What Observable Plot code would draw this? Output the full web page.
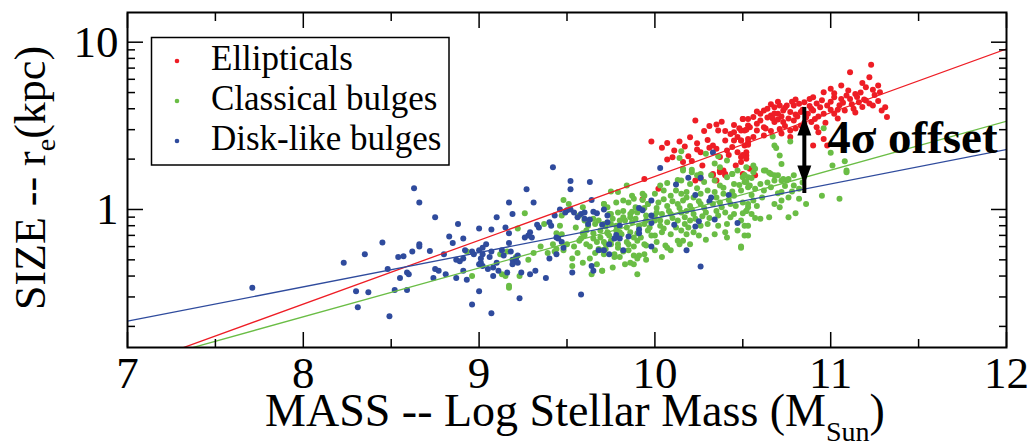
<!DOCTYPE html>
<html><head><meta charset="utf-8">
<script src="https://cdn.jsdelivr.net/npm/d3@7"></script>
<script src="https://cdn.jsdelivr.net/npm/@observablehq/plot@0.6"></script>
<style>body{margin:0;background:#fff} svg{display:block}</style>
</head><body><div id="chart"></div>
<script>
// ---------- data: [log stellar mass, r_e (kpc)] ----------
const ellipticals = [
[11.23,7.33],[11.11,6.62],[11.22,6.18],[11.06,5.51],[11.10,5.14],[11.14,4.91],[11.20,5.38],[11.25,4.84],[11.28,5.02],[11.00,5.26],
[10.96,5.02],[10.90,4.69],[10.88,4.58],[10.85,4.38],[10.82,4.28],[10.79,4.19],[10.75,4.19],[10.71,4.19],[10.68,4.09],[11.02,4.69],
[11.06,4.58],[11.11,4.58],[11.16,4.38],[11.20,4.48],[11.24,4.19],[11.31,4.09],[11.32,3.57],[10.94,4.09],[10.98,4.19],[10.89,4.00],
[10.83,3.82],[10.77,3.82],[10.73,3.91],[10.70,3.73],[10.66,3.65],[10.60,3.73],[10.56,3.57],[10.53,3.48],[10.50,3.48],[10.68,3.33],
[10.73,3.33],[10.79,3.40],[10.87,3.73],[10.91,3.48],[10.96,3.73],[11.02,3.73],[11.08,3.91],[11.13,4.00],[10.62,3.10],[10.58,2.97],
[10.54,3.10],[10.51,2.97],[10.71,3.03],[10.77,2.97],[10.83,3.18],[10.92,3.10],[10.96,2.64],[10.98,2.41],[10.62,2.77],[10.56,2.71],
[10.49,2.58],[10.53,2.52],[10.52,2.10],[10.49,1.92],[10.54,1.75],[10.57,1.60],[10.89,3.33],[10.93,2.90],[10.77,2.71],[10.90,2.41],
[10.23,3.40],[10.31,3.15],[10.35,3.22],[10.36,2.97],[10.50,3.48],[10.53,3.18],[9.98,2.55],[10.07,2.50],[10.04,2.34],[10.11,2.25],
[10.24,2.49],[10.24,2.28],[10.26,2.20],[10.31,2.34],[10.33,2.41],[10.35,2.31],[10.40,2.58],[10.43,2.83],[10.45,2.58],[10.47,2.71],
[10.49,2.97],[10.51,2.41],[10.53,2.64],[10.17,2.38],[10.19,2.08],[10.07,1.99],[10.16,1.92],[10.21,1.95],[10.27,1.83],[9.94,1.52],
[10.33,1.63],[10.37,1.71],[10.40,1.60],[10.46,1.83],[10.49,2.06],[10.52,2.01],[10.41,2.25],[10.37,2.06],[11.27,5.51],[11.18,5.70],
[10.48,3.06],[10.45,2.90],[10.52,3.00],[10.53,2.44],[10.52,2.20],[10.50,2.12],[10.47,2.20],[10.44,2.36],[10.42,2.12],[10.49,2.58],
[10.02,1.33],[9.93,1.15],[10.23,1.49],[10.26,1.53],[10.33,1.60],[10.35,1.49],[10.37,1.67],[10.40,1.63],[10.39,1.71],[10.50,1.63],
[10.60,3.40],[10.64,3.55],[10.68,3.75],[10.72,3.60],[10.76,3.50],[10.80,3.70],[10.84,3.95],[10.86,3.55],[10.70,4.40],[10.80,4.55],
[10.92,4.30],[11.00,4.40],[11.05,4.20],[11.15,4.70],[11.18,4.10],[10.64,4.00],[10.58,3.85],[10.66,2.95],[10.74,3.15],[11.04,3.95],
[10.62,3.90],[10.66,4.25],[10.70,3.45],[10.74,4.05],[10.78,4.40],[10.81,3.60],[10.85,3.30],[10.88,4.15],[10.90,3.90],[10.93,3.60],
[10.95,4.50],[10.97,3.30],[11.00,3.95],[11.02,4.95],[11.04,3.50],[11.07,4.35],[11.09,4.80],[11.12,4.25],[11.14,3.80],[11.17,5.00],
[11.19,4.55],[11.22,4.30],[11.24,5.20],[11.27,4.45],[11.29,3.90],[10.58,3.25],[10.63,3.05],[10.67,3.50],[10.72,2.85],[10.80,3.05],
[10.45,3.20],[10.40,2.95],[10.38,3.35],[10.30,2.60],[10.28,2.95],[10.20,2.70],[10.14,2.55],[10.10,2.05]
];
const classicalBulges = [
[9.26,0.95],[9.22,0.77],[9.48,1.14],[9.51,1.08],[9.44,0.72],[9.47,0.71],[9.42,0.62],[9.44,0.58],[9.43,0.56],[9.53,0.51],
[9.53,0.46],[9.54,0.60],[9.59,1.03],[9.60,0.86],[9.62,0.86],[9.62,0.80],[9.65,0.88],[9.66,0.82],[9.68,0.86],[9.71,1.08],
[9.73,1.03],[9.70,0.43],[9.63,0.51],[9.67,0.47],[9.58,0.67],[9.61,0.62],[9.65,0.67],[9.67,0.64],[9.69,0.68],[9.70,0.57],
[9.71,0.54],[9.72,0.62],[9.65,0.72],[9.17,0.35],[9.17,0.34],[9.13,0.41],[9.15,0.40],[9.23,0.40],[8.96,0.40],[8.93,0.56],
[9.75,1.28],[9.16,0.56],[9.12,0.54],
[10.16,1.71],[10.21,1.67],[10.26,1.63],[10.32,1.60],[10.44,1.63],[10.47,1.71],[10.53,1.56],[10.41,1.56],
[10.07,1.44],[10.15,1.49],[10.20,1.42],[10.28,1.46],[10.34,1.49],[10.37,1.39],[10.45,1.42],[10.51,1.46],[10.53,1.36],[10.03,1.39],
[9.94,1.21],[10.00,1.24],[10.05,1.30],[10.09,1.21],[10.15,1.24],[10.18,1.27],[10.22,1.18],[10.26,1.24],[10.34,1.27],[10.39,1.24],
[10.45,1.21],[10.49,1.30],[9.87,1.21],[9.79,1.27],
[9.71,1.08],[9.78,1.10],[9.85,1.10],[9.88,1.16],[9.96,1.08],[10.02,1.10],[10.07,1.05],[10.13,1.08],[10.16,1.13],[10.20,1.05],
[10.26,1.08],[10.37,1.10],[10.43,1.08],[10.50,1.10],[10.53,1.03],[9.93,1.14],
[9.74,0.94],[9.79,0.96],[9.82,0.98],[9.86,0.94],[9.90,0.96],[9.95,0.92],[10.01,0.96],[10.04,0.94],[10.09,0.94],[10.15,0.96],
[10.18,0.98],[10.22,0.94],[10.29,0.96],[10.35,0.98],[10.40,0.96],[10.45,0.94],[10.52,0.98],
[9.75,0.82],[9.83,0.86],[9.87,0.84],[9.94,0.82],[10.00,0.86],[10.03,0.80],[10.07,0.84],[10.13,0.86],[10.17,0.82],[10.20,0.86],
[10.26,0.80],[10.30,0.82],[10.36,0.80],[10.41,0.82],[10.49,0.86],[10.53,0.80],
[9.73,0.73],[9.78,0.75],[9.81,0.71],[9.86,0.73],[9.88,0.68],[9.96,0.75],[10.00,0.70],[10.04,0.73],[10.09,0.71],[10.15,0.75],
[10.18,0.71],[10.22,0.73],[10.29,0.66],[10.34,0.71],[10.40,0.73],[10.51,0.70],
[9.71,0.64],[9.75,0.65],[9.79,0.62],[9.84,0.64],[9.90,0.65],[9.94,0.62],[10.01,0.64],[10.06,0.61],[10.13,0.65],[10.16,0.65],
[10.20,0.62],[9.72,0.58],[9.79,0.59],[9.88,0.60],[9.95,0.61],
[9.71,0.57],[9.77,0.54],[9.80,0.52],[9.88,0.53],[9.90,0.51],[9.85,0.57],[9.94,0.54],[10.00,0.57],[10.07,0.59],[10.49,0.60],
[9.70,0.43],[9.90,0.41],[9.86,0.48],
[10.56,1.67],[10.63,1.71],[10.66,1.63],[10.70,1.60],[10.76,1.52],[10.79,1.39],[10.82,1.33],[10.72,1.49],[10.68,1.49],[10.60,1.42],
[10.54,1.39],[10.52,1.46],[10.50,1.56],[10.57,1.33],[10.62,1.30],[10.66,1.36],[10.72,1.27],[10.76,1.18],[10.82,1.16],[10.86,1.08],
[10.95,1.21],[11.05,1.16],[11.09,1.67],[10.72,1.13],[10.68,1.08],[10.71,1.03],[10.65,0.90],[10.60,0.88],[10.57,0.89],[10.55,0.94],
[10.52,0.98],[10.53,1.08],[10.56,1.13],[10.51,0.80],[10.53,0.70],[10.49,0.59],[10.80,0.95],[10.76,0.90],
[10.96,3.06],[11.00,2.18],[10.67,2.73],[10.68,2.41],[10.69,2.33],[10.71,2.10],[10.77,2.55],[10.72,1.87],[10.56,1.83],[10.57,1.75],
[10.62,1.71],[10.65,1.66],[10.68,1.60],[10.73,1.52],[10.79,1.60],[10.75,1.49],[11.01,1.83],[11.08,1.94],[11.09,1.71],[10.51,1.60],
[10.55,1.54],
[10.15,2.23],[10.14,2.03],[10.16,1.75],[10.21,1.73],[10.29,2.15],[10.36,2.08],[10.34,1.88],[10.41,1.96],[10.37,1.79],[10.52,1.79],
[10.44,1.63],[10.51,1.60],[10.13,1.50],[10.24,1.60],
[9.47,0.92],[9.48,0.57],[9.37,0.82],[9.21,0.52],[9.57,0.65],[9.59,0.72],[9.61,0.75],[9.68,0.58],[9.73,0.72],[9.75,0.62],
[9.77,0.52],[9.84,1.39],[9.82,1.13],[9.86,0.90],[9.89,1.03],[9.93,1.24],[9.96,1.08],[9.80,0.86],[9.90,0.72],[9.91,0.53],
[9.88,0.47],[9.83,0.47],[9.75,0.94],[9.71,0.82],
[9.55,0.78],[9.57,0.92],[9.60,0.70],[9.63,0.60],[9.66,0.55],[9.69,0.75],[9.72,0.79],[9.74,0.70],[9.76,0.88],[9.78,0.80],
[9.80,0.73],[9.82,0.90],[9.84,0.78],[9.85,0.62],[9.87,0.97],[9.89,0.88],[9.91,0.80],[9.92,0.68],[9.94,1.02],[9.95,0.86],
[9.97,0.78],[9.98,0.70],[10.00,0.92],[10.01,1.02],[10.03,0.86],[10.05,0.77],[10.05,1.15],[10.08,0.98],[10.10,0.89],[10.10,1.12],
[10.12,0.78],[10.12,1.30],[10.14,1.02],[10.17,0.90],[10.18,1.18],[10.19,0.78],[10.21,1.00],[10.23,0.88],[10.24,1.34],[10.25,1.12],
[10.27,0.91],[10.28,1.02],[10.30,1.30],[10.31,0.89],[10.33,1.08],[10.35,1.18],[10.36,0.92],[10.38,1.03],[10.39,1.35],[10.42,1.14],
[10.43,0.90],[10.44,1.28],[10.46,1.05],[10.47,0.75],[10.48,1.40],[10.50,0.95],[10.55,1.22],[10.58,1.05],[10.61,1.18],[10.64,1.45],
[10.70,1.25],[10.74,1.38],[10.78,1.28],[10.84,1.45],[9.50,0.62],[9.46,0.80],[9.39,0.55],[9.35,0.60],[9.31,0.55],[9.28,0.50],
[9.56,0.55],[9.59,0.48],[9.64,0.41],[9.76,0.45],[9.82,0.56],[9.95,0.50],[10.04,0.52],[10.09,0.57],[10.14,0.62],[10.25,0.70],
[10.41,0.68]
];
const diskLikeBulges = [
[7.71,0.34],[8.63,1.34],[8.66,1.10],[8.45,0.635],[8.35,0.54],[8.23,0.48],[8.66,0.62],[8.66,0.60],[8.62,0.56],[8.72,0.565],
[8.54,0.52],[8.57,0.525],[8.48,0.44],[8.59,0.42],[8.60,0.41],[8.55,0.39],[8.30,0.325],[8.37,0.32],[8.52,0.33],[8.59,0.33],
[8.31,0.26],[8.49,0.23],
[8.75,0.90],[8.88,0.82],[9.00,0.77],[9.07,0.76],[9.10,0.90],[9.17,1.10],[9.19,0.94],[9.27,1.32],[9.31,1.10],[9.15,0.78],
[9.17,0.72],[8.83,0.69],[8.85,0.63],[8.91,0.67],[8.80,0.54],[8.87,0.50],[8.89,0.49],[8.91,0.51],[8.92,0.57],[8.96,0.56],
[8.97,0.54],[9.00,0.57],[9.02,0.59],[9.02,0.54],[9.01,0.51],[9.04,0.62],[9.07,0.56],[9.06,0.52],[9.01,0.48],[9.10,0.48],
[9.13,0.57],[9.14,0.53],[9.17,0.63],[9.18,0.56],[9.19,0.50],[9.21,0.49],[9.22,0.53],[9.28,0.70],[9.29,0.73],[9.30,0.68],
[9.33,0.81],[9.34,0.78],[9.26,0.68],[9.40,0.84],[9.41,0.80],[9.43,0.92],[9.44,0.68],[9.46,1.00],[9.49,0.96],[9.50,0.99],
[9.52,1.00],[9.52,1.48],[9.52,1.32],[9.63,1.46],[9.64,1.14],[9.54,0.96],[9.56,0.90],[9.58,0.94],[9.60,0.96],[9.60,0.88],
[9.62,0.82],[9.63,0.87],[9.65,0.97],[9.67,0.95],[9.71,1.00],[9.70,0.81],[9.73,0.92],[9.45,0.67],[9.47,0.64],[9.48,0.59],
[9.44,0.54],[9.40,0.51],[9.53,0.42],[9.58,0.31],[9.64,0.46],[9.65,0.43],[9.68,0.57],[9.71,0.57],[9.74,0.54],[9.24,0.42],
[9.29,0.41],[9.32,0.43],[9.38,0.39],[9.23,0.295],[8.96,0.27],[9.07,0.24],[9.00,0.325],[8.75,0.44],[8.77,0.43],[8.81,0.41],
[8.74,0.39],[8.87,0.39],[8.93,0.38],[8.91,0.43],[9.08,0.40],[9.11,0.43],[9.08,0.45],[9.05,0.44],[9.02,0.46],[9.00,0.47],
[9.21,0.51],[9.19,0.47],[9.22,0.48],[9.16,0.42],
[10.19,1.55],[10.26,1.55],[10.12,1.41],[10.23,1.22],[10.32,1.18],[10.31,1.12],[10.42,1.22],[9.98,1.13],[9.91,1.02],[9.93,0.99],
[9.98,0.92],[9.98,0.83],[10.11,0.81],[10.25,0.85],[10.34,0.87],[10.47,0.83],[10.23,0.79],[10.18,0.57],[10.26,0.456],[9.98,0.60],
[9.82,0.57],[9.91,0.76],[9.91,0.72],[9.78,0.705],[9.77,0.67],[9.74,0.62],[9.80,0.80],[9.73,0.84],[9.85,0.69],[9.80,0.67],
[10.03,1.77],[10.33,2.19],[9.42,1.79]
];
// fitted relations: value at the two ends of the mass range
const fitMass = [7, 12];
const ellipticalFit = [0.1130, 9.12];
const classicalFit = [0.1164, 3.37];
const diskLikeFit = [0.2150, 2.28];
// offset annotation
const offsetMass = 10.85, offsetLow = 1.41, offsetHigh = 3.60;
const offsetLabel = "4σ offset", offsetLabelMass = 10.98, offsetLabelSize = 2.19;
// axes
const xMajor = [7, 8, 9, 10, 11, 12];
const xMinor = [7.5, 8.5, 9.5, 10.5, 11.5];
const yMajor = [1, 10];
const yMinor = [0.2,0.3,0.4,0.5,0.6,0.7,0.8,0.9,2,3,4,5,6,7,8,9];
const groupNames = ["Ellipticals", "Classical bulges", "Disk-like bulges"];
const groupColors = ["#ee1d25", "#6abd45", "#2f4b9d"];
const xTitle = ["MASS -- Log Stellar Mass (M", "Sun", ")"];
const yTitle = ["SIZE -- r", "e", "(kpc)"];

// ---------- build ----------
const F = "Liberation Serif, Times New Roman, serif";
const toRows = a => a.map(([m, r]) => ({m, r}));
const fitRows = v => fitMass.map((m, i) => ({m, r: v[i]}));
const headUp = {draw(ctx){ctx.moveTo(0,0);ctx.lineTo(7,19);ctx.lineTo(-7,19);ctx.closePath();}};
const blank = () => "";

const svg = Plot.plot({
  width: 1030, height: 447,
  marginLeft: 127, marginRight: 24, marginTop: 12, marginBottom: 100,
  style: {fontFamily: F, background: "white", color: "black"},
  x: {domain: [7, 12], label: null},
  y: {type: "log", domain: [0.1496, 15.05], label: null},
  marks: [
    Plot.dot(toRows(ellipticals), {x: "m", y: "r", r: 3, fill: groupColors[0], stroke: null}),
    Plot.dot(toRows(classicalBulges), {x: "m", y: "r", r: 3, fill: groupColors[1], stroke: null}),
    Plot.dot(toRows(diskLikeBulges), {x: "m", y: "r", r: 3, fill: groupColors[2], stroke: null}),
    Plot.line(fitRows(ellipticalFit), {x: "m", y: "r", stroke: groupColors[0], strokeWidth: 1.3, clip: true}),
    Plot.line(fitRows(classicalFit), {x: "m", y: "r", stroke: groupColors[1], strokeWidth: 1.3, clip: true}),
    Plot.line(fitRows(diskLikeFit), {x: "m", y: "r", stroke: groupColors[2], strokeWidth: 1.3, clip: true}),
    Plot.ruleX([offsetMass], {y1: offsetLow, y2: offsetHigh, stroke: "black", strokeWidth: 4, insetTop: 9, insetBottom: 9}),
    Plot.dot([{m: offsetMass, r: offsetHigh}], {x: "m", y: "r", symbol: headUp, fill: "black", stroke: null}),
    Plot.dot([{m: offsetMass, r: offsetLow}], {x: "m", y: "r", symbol: headUp, rotate: 180, fill: "black", stroke: null}),
    Plot.text([{m: offsetLabelMass, r: offsetLabelSize, t: offsetLabel}], {x: "m", y: "r", text: "t", textAnchor: "start", lineAnchor: "bottom", fontSize: 47, fontWeight: "bold", fontFamily: F, fill: "black"}),
    // ticks (inward)
    Plot.axisX({anchor: "bottom", ticks: xMajor, tickSize: -15, tickFormat: blank, label: null, strokeWidth: 1.5}),
    Plot.axisX({anchor: "bottom", ticks: xMinor, tickSize: -8, tickFormat: blank, label: null, strokeWidth: 1.5}),
    Plot.axisX({anchor: "top", ticks: xMajor, tickSize: -15, tickFormat: blank, label: null, strokeWidth: 1.5}),
    Plot.axisX({anchor: "top", ticks: xMinor, tickSize: -8, tickFormat: blank, label: null, strokeWidth: 1.5}),
    Plot.axisY({anchor: "left", ticks: yMajor, tickSize: -16, tickFormat: blank, label: null, strokeWidth: 1.5}),
    Plot.axisY({anchor: "left", ticks: yMinor, tickSize: -8, tickFormat: blank, label: null, strokeWidth: 1.5}),
    Plot.axisY({anchor: "right", ticks: yMajor, tickSize: -16, tickFormat: blank, label: null, strokeWidth: 1.5}),
    Plot.axisY({anchor: "right", ticks: yMinor, tickSize: -8, tickFormat: blank, label: null, strokeWidth: 1.5}),
    // tick labels
    Plot.axisX({anchor: "bottom", ticks: xMajor, tickSize: 0, tickPadding: 9, tickFormat: d => String(d), label: null, fontSize: 45, fontFamily: F, fill: "black"}),
    Plot.axisY({anchor: "left", ticks: yMajor, tickSize: 0, tickPadding: 9, tickFormat: d => String(d), label: null, fontSize: 45, fontFamily: F, fill: "black"}),
    Plot.frame({stroke: "black", strokeWidth: 2})
  ]
});

const s = d3.select(svg);
s.selectAll("text").filter(function(){ return this.textContent === ""; }).remove();
// axis titles with subscripts
const xt = s.append("text").attr("x", 575).attr("y", 426).attr("text-anchor", "middle")
  .attr("font-family", F).attr("font-size", 46).attr("fill", "black");
xt.append("tspan").text(xTitle[0]);
xt.append("tspan").attr("font-size", 28).attr("dy", 15).text(xTitle[1]);
xt.append("tspan").attr("dy", -15).text(xTitle[2]);
const yt = s.append("text").attr("transform", "translate(45,178) rotate(-90)").attr("text-anchor", "middle")
  .attr("font-family", F).attr("font-size", 44).attr("fill", "black");
yt.append("tspan").text(yTitle[0]);
yt.append("tspan").attr("font-size", 28).attr("dy", 10).text(yTitle[1]);
yt.append("tspan").attr("dy", -10).text(yTitle[2]);
// legend
const lg = s.append("g");
lg.append("rect").attr("x", 151.5).attr("y", 37.5).attr("width", 297.5).attr("height", 127.5)
  .attr("fill", "white").attr("stroke", "black").attr("stroke-width", 1.5);
groupNames.forEach((name, i) => {
  const cy = 61 + i * 40;
  lg.append("circle").attr("cx", 177).attr("cy", cy).attr("r", 2.3).attr("fill", groupColors[i]);
  lg.append("text").attr("x", 211).attr("y", cy + 9).attr("text-anchor", "start").attr("font-family", F).attr("font-size", 35)
    .attr("fill", "black").text(name);
});
document.getElementById("chart").appendChild(svg);
</script>
</body></html>
